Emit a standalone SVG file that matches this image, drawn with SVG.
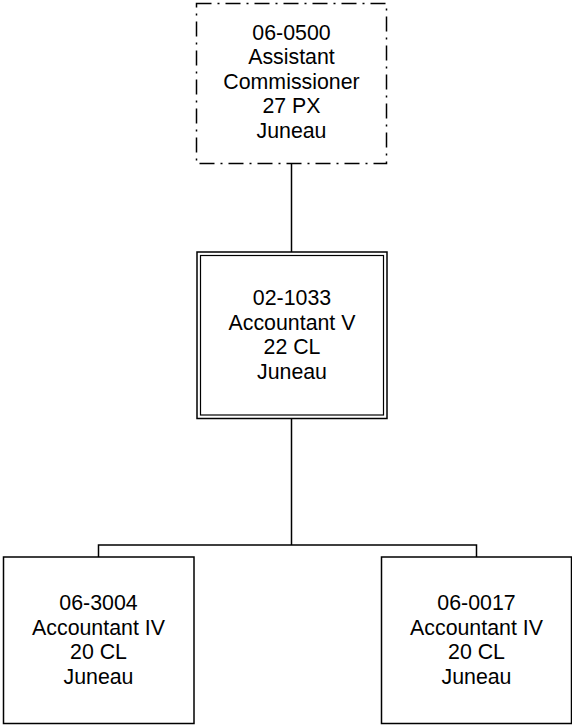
<svg xmlns="http://www.w3.org/2000/svg" width="572" height="726" viewBox="0 0 572 726">
<style>
.box{fill:#fff;stroke:#000;stroke-width:1.5}
.dash{stroke-dasharray:15 6 2 6}
.thin{fill:none;stroke:#000;stroke-width:1.2}
.conn{fill:none;stroke:#000;stroke-width:1.5}
text{font-family:"Liberation Sans",Arial,sans-serif;font-size:21.33px;fill:#000;text-anchor:middle}
</style>
<rect width="572" height="726" fill="#fff"/>
<g id="connectors">
<path class="conn" d="M291.5 163.5V252"/>
<path class="conn" d="M291.5 418V545M98.5 557V545H476.5V557"/>
</g>
<g id="n0500">
<rect class="box dash" x="196.5" y="3.5" width="190" height="160"/>
<text x="291.5" y="39.5">06-0500</text>
<text x="291.5" y="64">Assistant</text>
<text x="291.5" y="88.5">Commissioner</text>
<text x="291.5" y="113">27 PX</text>
<text x="291.5" y="137.5">Juneau</text>
</g>
<g id="n1033">
<rect class="box" x="197" y="252" width="190" height="166.5"/>
<rect class="thin" x="200.5" y="255.5" width="183" height="159.5"/>
<text x="292" y="305">02-1033</text>
<text x="292" y="329.5">Accountant V</text>
<text x="292" y="354">22 CL</text>
<text x="292" y="378.5">Juneau</text>
</g>
<g id="n3004">
<rect class="box" x="3.5" y="557" width="190.5" height="166.5"/>
<text x="98.5" y="610">06-3004</text>
<text x="98.5" y="634.5">Accountant IV</text>
<text x="98.5" y="659">20 CL</text>
<text x="98.5" y="683.5">Juneau</text>
</g>
<g id="n0017">
<rect class="box" x="381.5" y="557" width="190" height="166.5"/>
<text x="476.5" y="610">06-0017</text>
<text x="476.5" y="634.5">Accountant IV</text>
<text x="476.5" y="659">20 CL</text>
<text x="476.5" y="683.5">Juneau</text>
</g>
</svg>
